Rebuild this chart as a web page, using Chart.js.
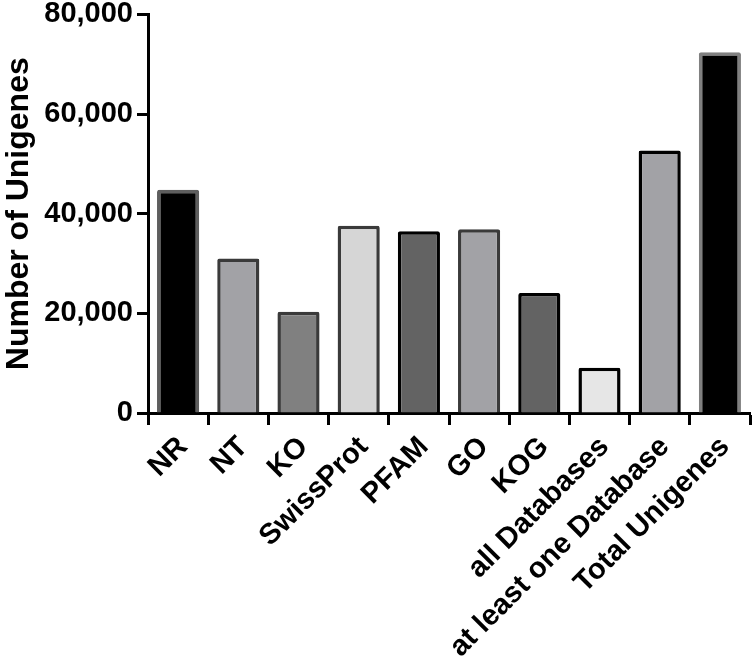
<!DOCTYPE html>
<html>
<head>
<meta charset="utf-8">
<script src="https://cdn.jsdelivr.net/npm/chart.js@4.4.1/dist/chart.umd.min.js"></script>
<style>
  html, body { margin: 0; padding: 0; background: #fff; }
  #wrap { width: 752px; height: 666px; position: relative; }
</style>
</head>
<body>
<div id="wrap"><canvas id="unigeneChart"></canvas></div>
<script>
// dati
const categories = ["NR", "NT", "KO", "SwissProt", "PFAM", "GO", "KOG", "all Databases", "at least one Database", "Total Unigenes"];
const unigeneCounts = [44800, 31000, 20300, 37600, 36500, 36900, 24100, 9100, 52700, 72400];
const fillColors = ["#000000", "#a2a2a6", "#808080", "#d6d6d6", "#636363", "#a2a2a6", "#636363", "#e6e6e6", "#a2a2a6", "#000000"];
const borderColors = ["#5e5e5e", "#3a3a3a", "#3a3a3a", "#3a3a3a", "#000000", "#3a3a3a", "#000000", "#000000", "#000000", "#808080"];
const yTicks = [0, 20000, 40000, 60000, 80000];

const FONT = '"Liberation Sans", Arial, Helvetica, sans-serif';

const ctx = document.getElementById("unigeneChart").getContext("2d");

new Chart(ctx, {
    type: "bar",
    data: {
        labels: categories,
        datasets: [{
            data: unigeneCounts,
            backgroundColor: fillColors,
            borderColor: borderColors,
            borderWidth: 3.5,
            borderRadius: 2,
            borderSkipped: "start",
            barPercentage: 0.7,
            categoryPercentage: 1.0
        }]
    },
    options: {
        responsive: true,
        maintainAspectRatio: false,
        animation: false,
        layout: { padding: { top: 0, right: 2, left: 0, bottom: 0 } },
        plugins: {
            legend: { display: false },
            tooltip: { enabled: false }
        },
        scales: {
            x: {
                offset: true,
                grid: {
                    display: true,
                    drawOnChartArea: false,
                    drawTicks: true,
                    tickLength: 12,
                    tickWidth: 3,
                    tickColor: "#000"
                },
                border: { display: true, color: "#000", width: 3 },
                ticks: {
                    color: "#000",
                    font: { family: FONT, size: 29, weight: "bold" },
                    minRotation: 45,
                    maxRotation: 45,
                    autoSkip: false,
                    padding: 5,
                    labelOffset: 5
                },
                afterFit: scale => { scale.height = 253; }
            },
            y: {
                min: 0,
                max: 80000,
                afterBuildTicks: scale => { scale.ticks = yTicks.map(v => ({ value: v })); },
                grid: {
                    display: true,
                    drawOnChartArea: false,
                    drawTicks: true,
                    tickLength: 11,
                    tickWidth: 3,
                    tickColor: "#000"
                },
                border: { display: true, color: "#000", width: 3 },
                ticks: {
                    color: "#000",
                    font: { family: FONT, size: 29, weight: "bold", lineHeight: 0.72 },
                    padding: 4,
                    callback: v => v.toLocaleString("en-US")
                },
                title: {
                    display: true,
                    text: "Number of Unigenes",
                    color: "#000",
                    font: { family: FONT, size: 32, weight: "bold" },
                    padding: { top: 0, bottom: 0 }
                },
                afterFit: scale => { scale.width = 148; }
            }
        }
    }
});
</script>
</body>
</html>
